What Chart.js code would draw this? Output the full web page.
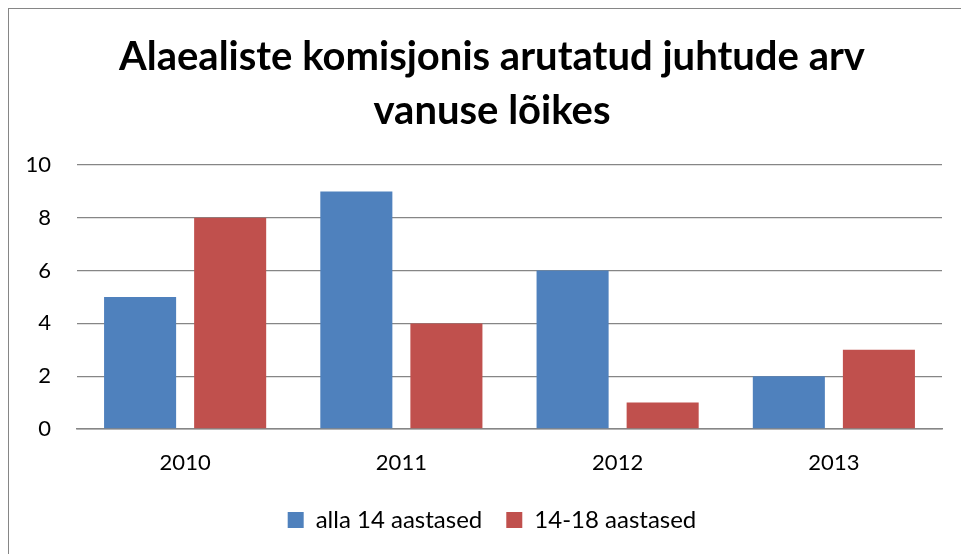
<!DOCTYPE html>
<html>
<head>
<meta charset="utf-8">
<script src="https://cdn.jsdelivr.net/npm/chart.js@4/dist/chart.umd.min.js"></script>
<style>
    html, body { margin: 0; padding: 0; background: #fff; }
    #wrap { width: 961px; height: 554px; position: relative; }
</style>
</head>
<body>
<div id="wrap"><canvas id="chart" width="961" height="554"></canvas></div>
<script>
// Chart data
const years = ['2010', '2011', '2012', '2013'];
const under14 = [5, 9, 6, 2];
const age14to18 = [8, 4, 1, 3];
const yTicks = [0, 2, 4, 6, 8, 10];

const FONT = 'Lato, "Open Sans", sans-serif';
const GRID = '#868686';

// Grey outer frame like the spreadsheet chart box
const framePlugin = {
    id: 'frame',
    beforeDraw(chart) {
        const ctx = chart.ctx;
        ctx.save();
        ctx.fillStyle = '#fff';
        ctx.fillRect(0, 0, chart.width, chart.height);
        ctx.strokeStyle = GRID;
        ctx.lineWidth = 1;
        ctx.strokeRect(8.5, 8.5, 2000, 2000);
        ctx.restore();
    }
};

// Title and legend are centred on the whole box in the original, not on 0..plot right
const centerShift = {
    id: 'centerShift',
    afterLayout(chart) {
        const dx = 21;
        [chart.titleBlock, chart.legend].forEach(box => {
            if (box) {
                box.left += dx;
                box.right += dx;
            }
        });
    }
};

new Chart(document.getElementById('chart'), {
    type: 'bar',
    data: {
        labels: years,
        datasets: [
            {
                label: 'alla 14 aastased',
                data: under14,
                backgroundColor: '#4F81BD',
                categoryPercentage: 0.833,
                barPercentage: 0.8
            },
            {
                label: '14-18 aastased',
                data: age14to18,
                backgroundColor: '#C0504D',
                categoryPercentage: 0.833,
                barPercentage: 0.8
            }
        ]
    },
    options: {
        responsive: false,
        animation: false,
        layout: { padding: { left: 0, right: 19, top: 0, bottom: 12 } },
        plugins: {
            title: {
                display: true,
                text: ['Alaealiste komisjonis arutatud juhtude arv', 'vanuse lõikes'],
                color: '#000',
                font: { family: FONT, size: 40, weight: 'bold', lineHeight: 1.35 },
                padding: { top: 30, bottom: 27 }
            },
            legend: {
                position: 'bottom',
                labels: {
                    color: '#000',
                    font: { family: FONT, size: 24 },
                    boxWidth: 16,
                    boxHeight: 16,
                    padding: 24
                }
            },
            tooltip: { enabled: false }
        },
        scales: {
            x: {
                grid: { display: false, drawTicks: false },
                border: { display: true, color: GRID, width: 1.5 },
                ticks: { color: '#000', font: { family: FONT, size: 22 }, padding: 21 },
                afterFit(scale) { scale.height = 55; }
            },
            y: {
                min: 0,
                max: 10,
                afterBuildTicks(scale) { scale.ticks = yTicks.map(v => ({ value: v })); },
                grid: { color: GRID, lineWidth: 1.3, drawTicks: false },
                border: { display: false },
                ticks: { color: '#000', font: { family: FONT, size: 22 }, padding: 26 },
                afterFit(scale) { scale.width = 77; }
            }
        }
    },
    plugins: [framePlugin, centerShift]
});
</script>
</body>
</html>
